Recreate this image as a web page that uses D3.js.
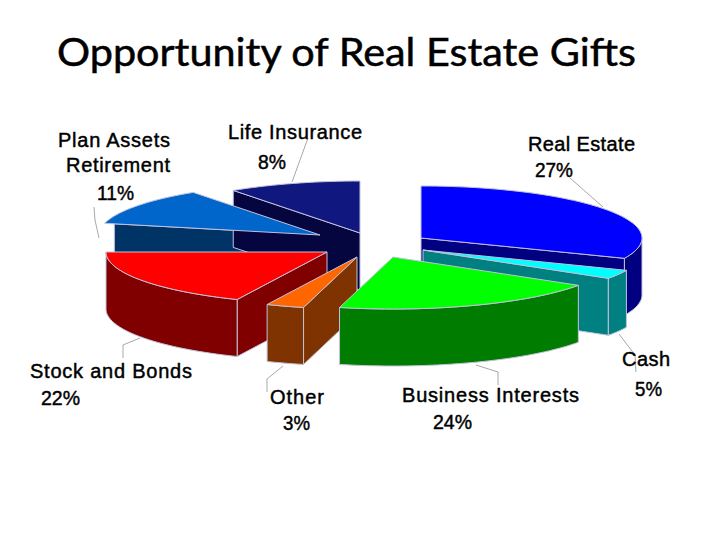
<!DOCTYPE html>
<html>
<head>
<meta charset="utf-8">
<script src="https://cdn.jsdelivr.net/npm/d3@7"></script>
<style>
  html, body { margin: 0; padding: 0; background: #fff; }
  svg { display: block; }
  .title { font-family: Lato, "Open Sans", sans-serif; fill: #000; stroke: #000; stroke-width: 0.5; }
  .label { font-family: "Liberation Sans", Arial, sans-serif; font-size: 20px; fill: #000; stroke: #000; stroke-width: 0.45; }
  .leader { fill: none; stroke: #a8a8a8; stroke-width: 1; }
  .face { stroke: #c2c2dc; stroke-width: 1; stroke-linejoin: round; }
</style>
</head>
<body>
<svg id="chart" width="720" height="540"></svg>
<script>
const categories = ['Real Estate', 'Cash', 'Business Interests', 'Other', 'Stock and Bonds', 'Plan Assets Retirement', 'Life Insurance'];
const values = [27, 5, 24, 3, 22, 11, 8];

const topColors = ['#0000ff', '#00ffff', '#00ff00', '#ff6600', '#ff0000', '#0066cc', '#101880'];
const sideColors = ['#000080', '#008080', '#007c00', '#7f3300', '#800000', '#003366', '#05053f'];

// The 3D view squeezes the pie unevenly, so slice boundaries land at these ellipse angles
const viewAngles = [0, 113, 123, 194, 204, 270, 325, 360];

// Layout of the exploded pie
const cx = 360, cy = 240, rx = 221, ry = 52, depth = 57;
const explode = [[61, -2], [63, 10], [33, 17], [-3, 17], [-33, 12], [-40, -5], [0, -7]];
const startShift = [0, 0, 0, 0, 0, 13, 0]; // plan assets wedge leans back in the picture
const cutInset = [1, 1, 1, 1, 1, 0.955, 1];

// Painter order, back to front
const drawOrder = [[5, 'side'], [6, 'side'], [6, 'top'], [5, 'top'], [0, 'side'], [0, 'top'], [4, 'side'], [4, 'top'],
  [1, 'side'], [1, 'top'], [3, 'side'], [3, 'top'], [2, 'side'], [2, 'top']];

// Text lines: [text, left x, baseline y, width]
const labelLines = [
  ['Plan Assets', 58, 147, 112], ['Retirement', 66, 172, 104], ['11%', 97, 200, 37],
  ['Life Insurance', 228, 139, 134], ['8%', 258, 169, 28],
  ['Real Estate', 528, 151, 107], ['27%', 535, 177, 38],
  ['Cash', 622, 366, 48], ['5%', 635, 396, 27],
  ['Business Interests', 402, 402, 177], ['24%', 433, 429, 39],
  ['Other', 270, 404, 54], ['3%', 283, 430, 27],
  ['Stock and Bonds', 30, 378, 162], ['22%', 41, 405, 39]
];

const leaders = [
  [[308, 138], [292, 182]],
  [[94, 207], [95, 220], [99, 238]],
  [[570, 178], [603, 207]],
  [[619, 334], [635, 355], [636, 372]],
  [[476, 365], [498, 372], [498, 385]],
  [[283, 366], [267, 379], [267, 392]],
  [[140, 338], [123, 345], [123, 358]]
];

const svg = d3.select('#chart');
const deg = 180 / Math.PI;

const arcs = d3.pie().sort(null).value(d => d)(values);
const breaks = [0].concat(arcs.map(a => a.endAngle * deg));
const warp = d3.scaleLinear().domain(breaks).range(viewAngles);

const line = d3.line();

function ellipsePoint(i, phi) {
  const t = phi / deg;
  return [cx + explode[i][0] + rx * Math.sin(t), cy + explode[i][1] - ry * Math.cos(t)];
}

function rimPoints(i, from, to) {
  const n = Math.max(2, Math.ceil(Math.abs(to - from) / 2));
  return d3.range(n + 1).map(k => ellipsePoint(i, from + (to - from) * k / n));
}

function drop(p) {
  return [p[0], p[1] + depth];
}

function drawFace(points, color) {
  svg.append('path')
    .attr('class', 'face')
    .attr('d', line(points) + 'Z')
    .attr('fill', color);
}

function drawCut(a, b, color) {
  drawFace([a, b, drop(b), drop(a)], color);
}

function drawSide(i) {
  const a0 = warp(arcs[i].startAngle * deg) + startShift[i];
  const a1 = warp(arcs[i].endAngle * deg);
  const apex = [cx + explode[i][0], cy + explode[i][1]];
  const p0 = ellipsePoint(i, a0);
  const p1 = ellipsePoint(i, a1);

  // Only edges running leftwards on screen face the viewer
  if (p0[0] < apex[0]) {
    const s = cutInset[i];
    drawCut(apex, [apex[0] + (p0[0] - apex[0]) * s, apex[1] + (p0[1] - apex[1]) * s], sideColors[i]);
  }
  if (p1[0] > apex[0]) drawCut(p1, apex, sideColors[i]);

  const from = Math.max(a0, 90), to = Math.min(a1, 270);
  if (to > from) {
    const rim = rimPoints(i, from, to);
    drawFace(rim.concat(rim.map(drop).reverse()), sideColors[i]);
  }
}

function drawTop(i) {
  const a0 = warp(arcs[i].startAngle * deg) + startShift[i];
  const a1 = warp(arcs[i].endAngle * deg);
  const apex = [cx + explode[i][0], cy + explode[i][1]];
  drawFace([apex].concat(rimPoints(i, a0, a1)), topColors[i]);
}

// Title
svg.append('text')
  .attr('class', 'title')
  .attr('x', 57)
  .attr('y', 66)
  .attr('font-size', 38)
  .attr('textLength', 579)
  .attr('lengthAdjust', 'spacingAndGlyphs')
  .text('Opportunity of Real Estate Gifts');

// Leader lines sit under the pie
svg.selectAll('.leader')
  .data(leaders)
  .enter().append('path')
  .attr('class', 'leader')
  .attr('d', d => line(d));

drawOrder.forEach(step => {
  if (step[1] === 'side') drawSide(step[0]);
  else drawTop(step[0]);
});

// Data labels, percentages are squeezed rather than letter spaced
svg.selectAll('.label')
  .data(labelLines)
  .enter().append('text')
  .attr('class', 'label')
  .attr('x', d => d[1])
  .attr('y', d => d[2])
  .attr('textLength', d => d[3])
  .attr('lengthAdjust', d => d[0].endsWith('%') ? 'spacingAndGlyphs' : 'spacing')
  .text(d => d[0]);
</script>
</body>
</html>
